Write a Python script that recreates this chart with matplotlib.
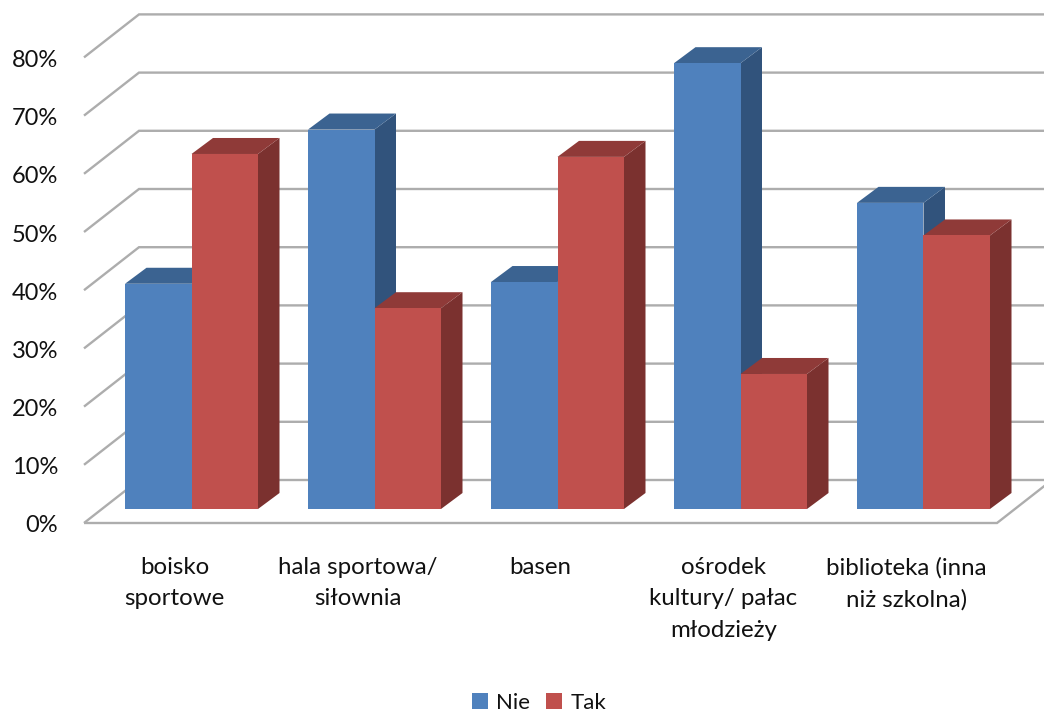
#!/usr/bin/env python3
"""3D-look clustered columns (Excel style), drawn on a flat axes."""
import matplotlib
matplotlib.use("Agg")
import matplotlib.pyplot as plt
from matplotlib.patches import Polygon, Rectangle

categories = ["boisko\nsportowe", "hala sportowa/\nsiłownia", "basen",
              "ośrodek\nkultury/ pałac\nmłodzieży", "biblioteka (inna\nniż szkolna)"]
nie = [38.7, 65.2, 39, 76.6, 52.6]
tak = [61, 34.5, 60.5, 23.2, 47]
series_names = ["Nie", "Tak"]
y_ticks = [0, 10, 20, 30, 40, 50, 60, 70, 80]

# colours: front, side, top
BLUE = ("#4f81bd", "#31537c", "#3b6391")
RED = ("#c0504d", "#7b312f", "#8f3a38")
GRID = "#adadad"
TEXT = "#111111"

W, H = 1044, 715
PX_PER_CAT = 183.0    # pixels from one category to the next
PX_PER_PCT = 5.82     # pixels per percentage point
X0, Y0 = 125.0, 509.0  # pixel position of x=0, y=0 on the bars' front plane
BAR_W = 66.5 / PX_PER_CAT

plt.rcParams["font.family"] = ["Lato", "DejaVu Sans"]
fig = plt.figure(figsize=(W / 100, H / 100), dpi=100)
ax = fig.add_axes([0, 0, 1, 1])
ax.set_xlim(-X0 / PX_PER_CAT, (W - X0) / PX_PER_CAT)
ax.set_ylim((Y0 - H) / PX_PER_PCT, Y0 / PX_PER_PCT)
ax.axis("off")


def shift(x, y, dx_px, dy_px):
    # move a data point by a depth offset given in pixels
    return x + dx_px / PX_PER_CAT, y + dy_px / PX_PER_PCT


def draw_bar(x, v, colours, z):
    dx, dy = 21.5, 16  # bar depth
    front, side, top = colours
    ax.add_patch(Polygon([(x + BAR_W, 0), shift(x + BAR_W, 0, dx, dy),
                          shift(x + BAR_W, v, dx, dy), (x + BAR_W, v)],
                         fc=side, ec="none", zorder=z))
    ax.add_patch(Polygon([(x, v), (x + BAR_W, v), shift(x + BAR_W, v, dx, dy),
                          shift(x, v, dx, dy)],
                         fc=top, ec="none", zorder=z))
    ax.add_patch(Rectangle((x, 0), BAR_W, v, fc=front, ec="none", zorder=z + 0.1))


# walls: the front plane of the floor sits 41px left / 14px below the bars' plane
left_x, right_x = (84 - X0) / PX_PER_CAT, (997 - X0) / PX_PER_CAT
front_dy = -14
back_dx, back_dy = 55, 43
for t in y_ticks:
    fx, fy = shift(left_x, t, 0, front_dy)
    bx, by = shift(left_x, t, back_dx, front_dy + back_dy)
    ex = (W + 5 - X0) / PX_PER_CAT
    ax.plot([fx, bx, ex], [fy, by, by], color=GRID, lw=1.7, zorder=1,
            solid_joinstyle="miter", solid_capstyle="butt")
    lx, ly = shift(fx, fy, -26, -3)
    ax.text(lx, ly, f"{t}%", ha="right", va="center", fontsize=17, color=TEXT)

# floor: front edge and right side
fx, fy = shift(left_x, 0, 0, front_dy)
gx, gy = shift(right_x, 0, 0, front_dy)
hx, hy = shift(right_x, 0, back_dx, front_dy + back_dy)
ax.plot([fx, gx, hx], [fy, gy, hy], color=GRID, lw=1.7, zorder=1.5,
        solid_joinstyle="miter", solid_capstyle="butt")

for i in range(len(categories)):
    draw_bar(i, nie[i], BLUE, 2 + i * 2)
    draw_bar(i + BAR_W, tak[i], RED, 3 + i * 2)
    lx, ly = shift(i + BAR_W, -7.2, -17, -6)
    ax.text(lx, ly, categories[i], ha="center", va="top", fontsize=17.3,
            color=TEXT, linespacing=1.62)

# legend sits at the bottom centre, as in the original
handles = [Rectangle((0, 0), 1, 1, fc=BLUE[0]), Rectangle((0, 0), 1, 1, fc=RED[0])]
ax.legend(handles, series_names, loc="center", bbox_to_anchor=(539 / W, 1 - 703 / H),
          ncol=2, frameon=False, fontsize=16, handlelength=0.72, handleheight=0.72,
          handletextpad=0.35, columnspacing=0.75, labelcolor=TEXT)

fig.savefig("out.png", dpi=100)
